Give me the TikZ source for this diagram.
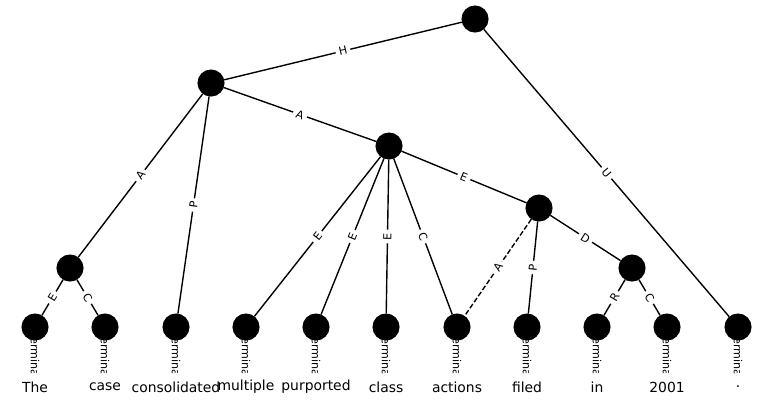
\documentclass[tikz,border=0pt]{standalone}
\usepackage{fontspec}
\setmainfont{DejaVu Sans}
\pgfdeclarelayer{bg}
\pgfsetlayers{bg,main}

\begin{document}
\begin{tikzpicture}[x=0.72pt,y=-0.72pt,
unit/.style={circle,fill=black,draw=black,minimum size=18.5pt,inner sep=0pt},
word/.style={circle,fill=white,minimum size=20.5pt,inner sep=0pt},
wordlab/.style={font=\fontsize{10}{12}\selectfont,inner sep=0pt},
lab/.style={midway,sloped,fill=white,inner sep=2.4pt,font=\fontsize{8}{9}\selectfont},
termlab/.style={midway,rotate=-90,fill=white,inner sep=1.6pt,font=\fontsize{8}{9}\selectfont},
remote/.style={dash pattern=on 3.7pt off 1.6pt},
every path/.style={line width=1pt}
]
\useasboundingbox (0,0) rectangle (774,407);

% inner units
\node[unit] (root) at (475,19) {};
\node[unit] (n1) at (211,83) {};
\node[unit] (n2) at (389,146) {};
\node[unit] (n3) at (539,208) {};
\node[unit] (n4) at (70,268) {};
\node[unit] (n5) at (632,268) {};

% terminals and words
\foreach \x/\w [count=\i] in {35/The,105/case,176/consolidated,246/multiple,
  316/purported,386/class,457/actions,527/filed,597/in,667/2001,738/.}
{
  \node[unit] (t\i) at (\x,327) {};
  \node[word,label={[wordlab]center:\w}] (w\i) at (\x,387) {};
}

\begin{pgfonlayer}{bg}
\foreach \i in {1,...,11}
  \draw (t\i) -- (w\i) node[termlab] {Terminal};
\end{pgfonlayer}

\draw (root) -- node[lab] {H} (n1);
\draw (root) -- node[lab] {U} (t11);
\draw (n1) -- node[lab] {A} (n4);
\draw (n1) -- node[lab] {P} (t3);
\draw (n1) -- node[lab] {A} (n2);
\draw (n2) -- node[lab] {E} (t4);
\draw (n2) -- node[lab] {E} (t5);
\draw (n2) -- node[lab] {E} (t6);
\draw (n2) -- node[lab] {C} (t7);
\draw (n2) -- node[lab] {E} (n3);
\draw[remote] (n3) -- node[lab] {A} (t7);
\draw (n3) -- node[lab] {P} (t8);
\draw (n3) -- node[lab] {D} (n5);
\draw (n4) -- node[lab] {E} (t1);
\draw (n4) -- node[lab] {C} (t2);
\draw (n5) -- node[lab] {R} (t9);
\draw (n5) -- node[lab] {C} (t10);
\end{tikzpicture}
\end{document}
